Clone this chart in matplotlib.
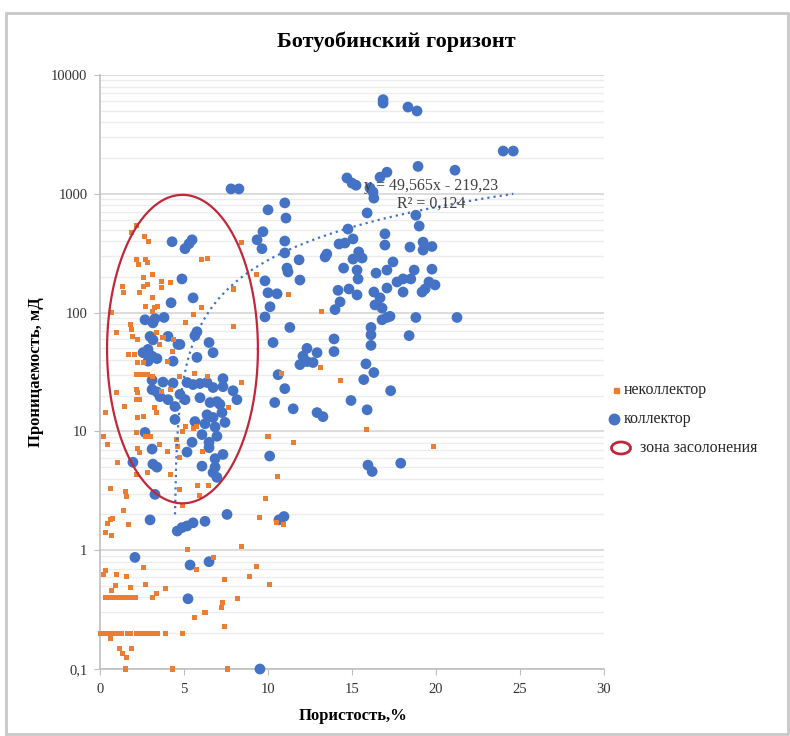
import numpy as np
import matplotlib
matplotlib.use("Agg")
import matplotlib.pyplot as plt
from matplotlib.lines import Line2D
from matplotlib.patches import Ellipse, Rectangle

plt.rcParams['font.family'] = ['Liberation Serif', 'DejaVu Serif']

# porosity %, permeability mD
nekollektor = [
    (2.2, 540), (1.9, 470), (2.62, 435), (2.86, 395), (2.2, 280), (2.68, 280), (2.8, 262), (2.32, 253),
    (3.15, 208), (2.56, 196), (3.69, 182), (4.17, 178), (1.31, 166), (1.37, 147), (2.56, 166), (2.8, 172),
    (3.69, 162), (2.38, 147), (3.1, 133), (2.68, 112), (3.27, 110), (3.45, 112), (3.15, 102), (0.71, 100),
    (6.07, 280), (6.4, 284), (8.4, 386), (9.29, 208), (7.92, 158), (7.92, 76), (11.2, 142), (5.06, 82),
    (6.07, 110), (5.54, 96),
    (1.79, 79), (1.9, 72), (1.96, 63), (2.26, 59), (1.01, 68), (4.35, 59), (3.39, 68), (3.75, 62),
    (1.67, 44), (2.08, 44), (3.57, 54), (4.29, 47), (2.26, 38), (2.56, 38), (3.99, 39), (2.2, 30),
    (2.5, 30), (2.8, 30), (3.1, 29), (4.76, 29), (5.65, 31), (6.37, 29), (8.45, 25.8), (1.01, 21.2),
    (2.2, 22.5), (2.26, 21.2), (3.69, 21.6), (4.17, 22.5), (1.43, 16.2), (2.2, 18.5), (2.38, 18.5),
    (3.27, 15.9), (3.39, 14.4), (0.3, 14.4), (2.56, 13.3), (7.62, 15.9),
    (5.06, 11.1), (5.54, 10.5), (5.77, 10.9), (4.94, 10), (2.26, 13.1), (2.2, 9.8), (2.68, 9.1),
    (2.98, 9.1), (3.57, 7.8), (3.99, 6.8), (2.26, 7.2), (2.38, 6.7), (1.07, 5.5), (2.2, 4.3), (4.58, 8.6),
    (4.64, 7.5), (6.13, 6.8), (4.76, 6.0), (2.8, 4.5), (4.17, 4.3), (0.18, 9.1), (0.42, 7.8), (10.0, 9.1),
    (0.6, 3.3), (1.49, 3.1), (1.6, 2.85), (1.37, 2.15), (0.6, 1.8), (0.42, 1.68), (0.77, 1.85), (1.67, 1.65),
    (0.3, 1.42), (0.71, 1.33), (4.94, 2.4), (4.76, 3.25), (5.83, 3.5), (6.43, 3.5), (5.95, 2.9),
    (10.54, 4.2), (9.88, 2.7), (9.52, 1.87), (10.95, 1.65), (10.5, 1.7),
    (5.18, 1.02), (6.73, 0.87), (5.77, 0.69), (8.45, 1.08), (9.29, 0.73), (8.87, 0.6), (10.06, 0.51),
    (7.44, 0.57), (8.21, 0.39), (7.32, 0.36), (7.26, 0.33), (6.25, 0.3), (5.65, 0.27), (7.44, 0.23),
    (7.56, 0.1),
    (2.56, 0.72), (0.3, 0.68), (0.18, 0.62), (1.01, 0.63), (1.6, 0.6), (0.9, 0.5), (0.71, 0.46),
    (2.68, 0.51), (3.39, 0.43), (3.87, 0.48), (1.79, 0.49),
    (0.3, 0.4), (0.5, 0.4), (0.7, 0.4), (0.9, 0.4), (1.1, 0.4), (1.3, 0.4), (1.6, 0.4), (1.8, 0.4),
    (2.1, 0.4), (3.1, 0.4),
    (0.05, 0.2), (0.2, 0.2), (0.35, 0.2), (0.5, 0.2), (0.65, 0.2), (0.8, 0.2), (0.95, 0.2), (1.1, 0.2),
    (1.25, 0.2), (1.65, 0.2), (1.8, 0.2), (2.2, 0.2), (2.4, 0.2), (2.6, 0.2), (2.8, 0.2), (3.1, 0.2),
    (3.4, 0.2), (3.9, 0.2), (4.9, 0.2),
    (0.6, 0.18), (1.19, 0.15), (1.31, 0.136), (1.6, 0.126), (1.9, 0.15), (1.49, 0.1), (4.29, 0.1),
    (13.2, 102), (10.83, 31), (13.15, 34.4), (14.29, 26.8), (15.89, 10.3), (11.49, 8.1), (19.88, 7.5),
]

kollektor = [
    (16.85, 6200), (16.85, 5800), (18.33, 5370), (18.87, 4980), (24.0, 2290), (24.6, 2290), (18.93, 1700),
    (21.13, 1580), (7.8, 1100), (8.27, 1100),
    (14.7, 1360), (15.0, 1230), (15.24, 1180), (16.07, 1120), (16.25, 1035), (16.67, 1380), (17.08, 1520),
    (16.3, 920), (15.9, 690), (18.8, 660), (19.0, 535), (14.76, 505), (16.96, 460), (16.96, 370),
    (14.23, 378), (14.58, 385), (15.06, 417), (18.45, 356), (19.23, 392), (19.76, 360), (19.23, 336),
    (11.0, 838), (11.07, 625), (11.0, 400), (11.0, 318), (11.85, 278), (11.13, 237), (11.19, 220),
    (11.9, 188), (13.4, 294), (13.5, 311), (15.4, 324), (15.6, 288), (15.06, 282), (14.5, 237), (15.3, 228),
    (15.36, 192), (16.43, 215), (17.08, 228), (17.44, 267), (17.68, 181), (18.04, 192), (18.5, 192),
    (18.7, 228), (19.76, 232), (19.58, 181), (19.94, 171), (19.35, 158), (19.17, 149), (18.04, 149),
    (17.08, 161), (16.3, 149), (14.82, 158), (14.17, 154), (15.3, 141),
    (10.54, 144), (10.12, 112), (14.29, 123), (13.99, 106), (16.67, 133), (16.37, 116), (16.79, 109),
    (16.79, 87), (17.08, 91), (17.26, 93), (18.8, 91), (21.25, 91),
    (11.3, 75), (10.3, 56), (16.13, 75), (16.13, 65), (18.4, 64), (16.13, 53), (13.93, 60), (13.93, 47),
    (12.32, 50), (12.92, 46), (12.08, 43), (11.9, 36.5), (12.32, 38.7), (12.68, 38), (10.6, 30),
    (11.0, 22.9), (10.4, 17.5), (11.5, 15.5), (12.92, 14.4), (13.27, 13.3), (14.94, 18.2), (15.9, 15.2),
    (15.83, 37), (16.3, 31.3), (15.7, 27.3), (17.3, 22), (10.1, 6.2), (15.95, 5.2), (16.2, 4.6),
    (17.9, 5.4), (10.65, 1.8), (10.95, 1.92),
    (10.0, 733), (9.7, 480), (9.35, 410), (9.64, 345), (9.82, 185), (10.0, 147), (9.82, 92),
    (4.29, 395), (5.06, 345), (5.3, 380), (5.48, 410), (4.88, 192), (5.54, 133), (4.23, 121),
    (5.77, 69), (5.65, 64), (6.49, 56), (6.73, 46), (5.77, 42), (4.76, 54),
    (5.18, 25.8), (5.54, 24.8), (5.95, 25.3), (6.37, 25.8), (6.73, 23.4), (7.32, 27.8), (7.32, 23.8),
    (7.92, 22), (8.15, 18.5), (5.95, 19.2), (6.55, 17.5), (6.96, 17.8), (7.14, 16.9), (5.06, 18.5),
    (6.37, 13.8), (6.73, 13.1), (7.26, 14.4), (7.44, 11.9), (5.65, 12.1), (6.25, 11.6), (6.85, 10.9),
    (6.07, 9.4), (6.96, 9.1), (6.49, 8.1), (6.49, 7.3), (5.48, 8.1), (5.18, 6.7), (7.32, 6.4),
    (6.85, 5.9), (6.07, 5.1), (6.85, 5.0), (6.73, 4.5), (6.96, 4.1),
    (7.56, 2.0), (6.25, 1.75), (5.54, 1.7), (5.18, 1.6), (4.88, 1.55), (4.6, 1.45), (5.36, 0.75),
    (6.49, 0.8), (5.24, 0.39), (9.52, 0.1),
    (2.68, 87), (3.27, 89), (3.81, 91), (3.15, 82), (4.05, 63), (4.64, 54), (2.98, 63), (3.15, 59),
    (2.86, 49), (2.56, 46), (3.1, 43), (2.86, 39), (3.39, 41), (4.35, 39), (3.1, 27), (3.75, 26),
    (4.35, 25.5), (3.1, 22.5), (3.39, 21.5), (3.57, 19.6), (4.05, 18.5), (4.76, 20.5), (4.46, 16.2),
    (4.46, 12.6), (2.68, 9.8), (3.1, 7.1), (3.15, 5.3), (3.39, 5.0), (1.96, 5.5), (3.27, 2.95),
    (2.98, 1.8), (2.08, 0.87),
]

# linear trend of the kollektor series, as printed on the chart
trend_a = 49.565
trend_b = -219.23
trend_label = "y = 49,565x - 219,23\nR² = 0,124"

# salinisation zone outline (porosity range, permeability range)
zone_x = (0.42, 9.4)
zone_y = (2.48, 980)

x_ticks = [0, 5, 10, 15, 20, 25, 30]
y_ticks = [0.1, 1, 10, 100, 1000, 10000]
y_tick_labels = ["0,1", "1", "10", "100", "1000", "10000"]

orange = '#ED7D31'
blue = '#4472C4'
red = '#C0283A'

W, H = 790, 736
fig = plt.figure(figsize=(W / 100, H / 100), dpi=100)


def fx(px):
    return px / W


def fy(py):
    return 1 - py / H


# chart frame
fig.add_artist(Rectangle((fx(6), fy(734)), fx(782), 721 / H, transform=fig.transFigure,
                         fill=False, edgecolor='#c8c8c8', linewidth=2))

ax = fig.add_axes([fx(100), fy(669), fx(604) - fx(100), fy(75) - fy(669)])
ax.set_yscale('log')
ax.set_xlim(0, 30)
ax.set_ylim(0.1, 10000)

ax.set_xticks(x_ticks)
ax.set_xticklabels([str(t) for t in x_ticks])
ax.set_yticks(y_ticks)
ax.set_yticklabels(y_tick_labels)
ax.yaxis.set_minor_locator(matplotlib.ticker.LogLocator(base=10, subs=np.arange(2, 10)))
ax.yaxis.set_minor_formatter(matplotlib.ticker.NullFormatter())
ax.tick_params(axis='both', which='major', labelsize=10.5, length=4, color='#bfbfbf', labelcolor='#333333')
ax.tick_params(axis='y', which='minor', length=0)
ax.tick_params(axis='x', pad=6)
ax.tick_params(axis='y', pad=5)

ax.grid(axis='y', which='major', color='#d9d9d9', linewidth=1.3)
ax.grid(axis='y', which='minor', color='#ececec', linewidth=1.0)
ax.set_axisbelow(True)
for s in ['top', 'right']:
    ax.spines[s].set_visible(False)
for s in ['left', 'bottom']:
    ax.spines[s].set_color('#bfbfbf')
    ax.spines[s].set_linewidth(1.2)

kx, ky = zip(*kollektor)
nx, ny = zip(*nekollektor)
ax.scatter(kx, ky, s=60, color=blue, edgecolors='none', zorder=3, clip_on=False)
ax.scatter(nx, ny, s=13, marker='s', color=orange, edgecolors='none', zorder=4, clip_on=False)

# trend line (only the positive part shows on a log axis)
x_start = (2.0 - trend_b) / trend_a
tx = np.linspace(x_start, max(kx), 300)
ax.plot(tx, trend_a * tx + trend_b, color=blue, linewidth=1.6, linestyle=(0, (1, 1.8)), zorder=5)
ax.text(19.7, 980, trend_label, ha='center', va='center', fontsize=11.5, color='#404040',
        linespacing=1.2, zorder=6)

# ellipse round the salinisation zone (an ellipse on screen)
t = np.linspace(0, 2 * np.pi, 400)
cx = (zone_x[0] + zone_x[1]) / 2
ax_half = (zone_x[1] - zone_x[0]) / 2
cy = (np.log10(zone_y[0]) + np.log10(zone_y[1])) / 2
cy_half = (np.log10(zone_y[1]) - np.log10(zone_y[0])) / 2
ax.plot(cx + ax_half * np.cos(t), 10 ** (cy + cy_half * np.sin(t)), color=red, linewidth=1.6, zorder=6)

fig.text(fx(396), fy(42), "Ботуобинский горизонт", ha='center', va='center',
         fontsize=16, fontweight='bold', color='#000000')
fig.text(fx(353), fy(716), "Пористость,%", ha='center', va='center',
         fontsize=12, fontweight='bold', color='#000000')
fig.text(fx(36), fy(372), "Проницаемость, мД", ha='center', va='center', rotation=90,
         fontsize=12, fontweight='bold', color='#000000')

# legend
fig.add_artist(Line2D([fx(616)], [fy(390)], marker='s', markersize=3.6, color=orange,
                      linestyle='none', transform=fig.transFigure))
fig.text(fx(624), fy(390), "неколлектор", ha='left', va='center', fontsize=11.5, color='#262626')
fig.add_artist(Line2D([fx(614)], [fy(419)], marker='o', markersize=7.5, color=blue,
                      linestyle='none', transform=fig.transFigure))
fig.text(fx(624), fy(419), "коллектор", ha='left', va='center', fontsize=11.5, color='#262626')
fig.add_artist(Ellipse((fx(621), fy(448)), 19 / W, 12 / H, transform=fig.transFigure,
                       fill=False, edgecolor=red, linewidth=2))
fig.text(fx(640), fy(448), "зона засолонения", ha='left', va='center', fontsize=11.5, color='#262626')

fig.savefig("out.png", dpi=100, facecolor='white')
